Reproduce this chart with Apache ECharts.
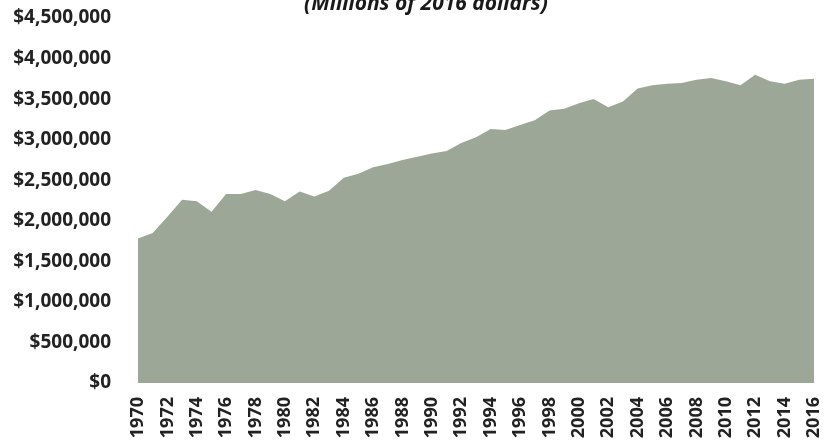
<!DOCTYPE html>
<html>
<head>
<meta charset="utf-8">
<script src="https://cdn.jsdelivr.net/npm/echarts@6/dist/echarts.min.js"></script>
<style>
html,body{margin:0;padding:0;background:#fff;}
#c{width:835px;height:447px;}
</style>
</head>
<body>
<div id="c"></div>
<script>
const years = ['1970','1971','1972','1973','1974','1975','1976','1977','1978','1979',
  '1980','1981','1982','1983','1984','1985','1986','1987','1988','1989',
  '1990','1991','1992','1993','1994','1995','1996','1997','1998','1999',
  '2000','2001','2002','2003','2004','2005','2006','2007','2008','2009',
  '2010','2011','2012','2013','2014','2015','2016'];
const values = [1780000,1850000,2050000,2260000,2240000,2110000,2330000,2330000,2380000,2330000,
  2240000,2360000,2300000,2370000,2530000,2580000,2660000,2700000,2750000,2790000,
  2830000,2860000,2960000,3030000,3130000,3120000,3180000,3240000,3360000,3380000,
  3450000,3500000,3400000,3470000,3630000,3670000,3690000,3700000,3740000,3760000,
  3720000,3670000,3800000,3720000,3690000,3740000,3750000];
const subtitle = '(Millions of 2016 dollars)';

const chart = echarts.init(document.getElementById('c'));
const fmt = v => '$' + Math.round(v).toLocaleString('en-US');
chart.setOption({
  animation: false,
  title: {
    text: subtitle,
    left: 421, top: -11, textAlign: 'center',
    textStyle: {fontFamily: 'Open Sans', fontStyle: 'italic', fontWeight: 'bold', fontSize: 21, color: '#1a1a1a'}
  },
  grid: {left: 138, right: 21, top: 18, bottom: 64, containLabel: false},
  xAxis: {
    type: 'category', data: years, boundaryGap: false,
    axisLine: {show: false}, axisTick: {show: false},
    axisLabel: {interval: 1, rotate: 90, margin: 14, fontFamily: 'Open Sans', fontWeight: 'bold', fontSize: 18, color: '#222'}
  },
  yAxis: {
    type: 'value', min: 0, max: 4500000, interval: 500000,
    splitLine: {show: false}, axisLine: {show: false}, axisTick: {show: false},
    axisLabel: {formatter: fmt, margin: 27, fontFamily: 'Open Sans', fontWeight: 'bold', fontSize: 19, color: '#222'}
  },
  series: [{
    type: 'line', data: values, symbol: 'none',
    lineStyle: {width: 0},
    areaStyle: {color: '#9ca798', opacity: 1}
  }]
});
</script>
</body>
</html>
